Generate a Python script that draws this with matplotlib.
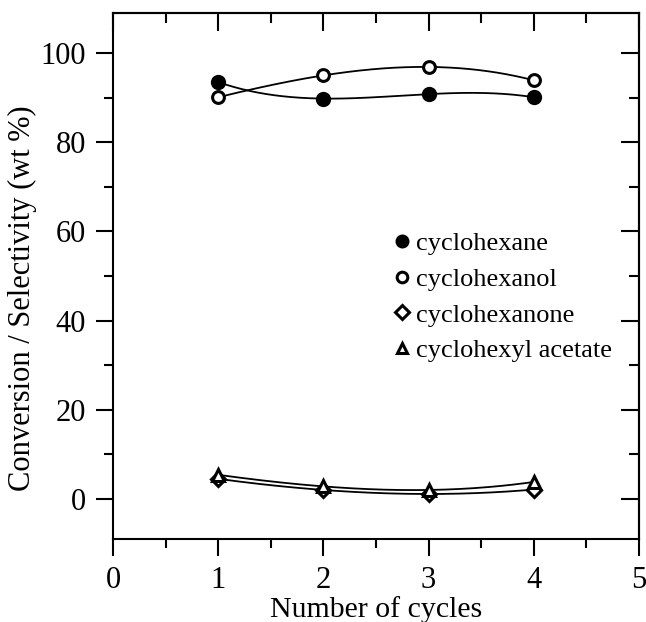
import numpy as np
import matplotlib
matplotlib.use("Agg")
import matplotlib.pyplot as plt
from matplotlib.ticker import MultipleLocator

plt.rcParams['font.family'] = ['Liberation Serif', 'DejaVu Serif']
plt.rcParams['mathtext.fontset'] = 'stix'

cycles = [1, 2, 3, 4]
cyclohexane = [93.5, 89.8, 90.8, 90.1]
cyclohexanol = [90.1, 95.0, 96.9, 93.9]
cyclohexanone = [4.5, 2.0, 1.1, 2.1]
cyclohexyl_acetate = [5.4, 2.8, 2.0, 3.8]

labels = ['cyclohexane', 'cyclohexanol', 'cyclohexanone', 'cyclohexyl acetate']
xticks = [0, 1, 2, 3, 4, 5]
yticks = [0, 20, 40, 60, 80, 100]

fig = plt.figure(figsize=(6.46, 6.22), dpi=100)
ax = fig.add_axes([113/646, 1-539/622, (639-113)/646, (539-13)/622])

series = [cyclohexane, cyclohexanol, cyclohexanone, cyclohexyl_acetate]
styles = [
    dict(marker='o', markersize=9.5, markerfacecolor='black', markeredgecolor='black', markeredgewidth=1.5),
    dict(marker='o', markersize=8.5, markerfacecolor='white', markeredgecolor='black', markeredgewidth=2.2),
    dict(marker='D', markersize=7.5, markerfacecolor='white', markeredgecolor='black', markeredgewidth=2.2),
    dict(marker='^', markersize=8.5, markerfacecolor='white', markeredgecolor='black', markeredgewidth=2.2),
]

xs = np.array(cycles, dtype=float)
xf = np.linspace(xs.min(), xs.max(), 200)
for ys in series:
    coef = np.polyfit(xs, np.array(ys, dtype=float), len(xs) - 1)
    ax.plot(xf, np.polyval(coef, xf), color='black', lw=1.3, zorder=2)

handles = []
for ys, st, lab in zip(series, styles, labels):
    h, = ax.plot(cycles, ys, linestyle='none', zorder=3, label=lab, **st)
    handles.append(h)

leg = ax.legend(handles=handles, loc='center left', bbox_to_anchor=(0.534, 0.46),
                frameon=False, fontsize=19, handlelength=0.6, handletextpad=0.23,
                labelspacing=0.46, borderaxespad=0, borderpad=0, markerscale=0.9)

ax.set_xlim(0, 5)
ax.set_ylim(-9, 109)
ax.set_xticks(xticks)
ax.set_yticks(yticks)
ax.xaxis.set_minor_locator(MultipleLocator(0.5))
ax.yaxis.set_minor_locator(MultipleLocator(10))

ax.tick_params(which='both', direction='out', top=False, right=False, width=1.5, labelsize=22, pad=7)
ax.tick_params(which='major', length=12.5)
ax.tick_params(which='minor', length=6.5)

for sp in ax.spines.values():
    sp.set_linewidth(1.5)

# inward ticks on top and right
axt = ax.secondary_xaxis('top')
axt.set_xticks(xticks)
axt.xaxis.set_minor_locator(MultipleLocator(0.5))
axt.tick_params(which='both', direction='in', labeltop=False, width=1.5)
axt.tick_params(which='major', length=13)
axt.tick_params(which='minor', length=7)
axt.spines['top'].set_linewidth(1.5)

axr = ax.secondary_yaxis('right')
axr.set_yticks(yticks)
axr.yaxis.set_minor_locator(MultipleLocator(10))
axr.tick_params(which='both', direction='in', labelright=False, width=1.5)
axr.tick_params(which='major', length=13)
axr.tick_params(which='minor', length=7)
axr.spines['right'].set_linewidth(1.5)

ax.set_xlabel('Number of cycles', fontsize=21.5)
ax.set_ylabel('Conversion / Selectivity (wt %)', fontsize=22)
ax.xaxis.set_label_coords(0.5, -0.108)
ax.yaxis.set_label_coords(-0.145, 0.458)

fig.savefig('out.png', dpi=100)
